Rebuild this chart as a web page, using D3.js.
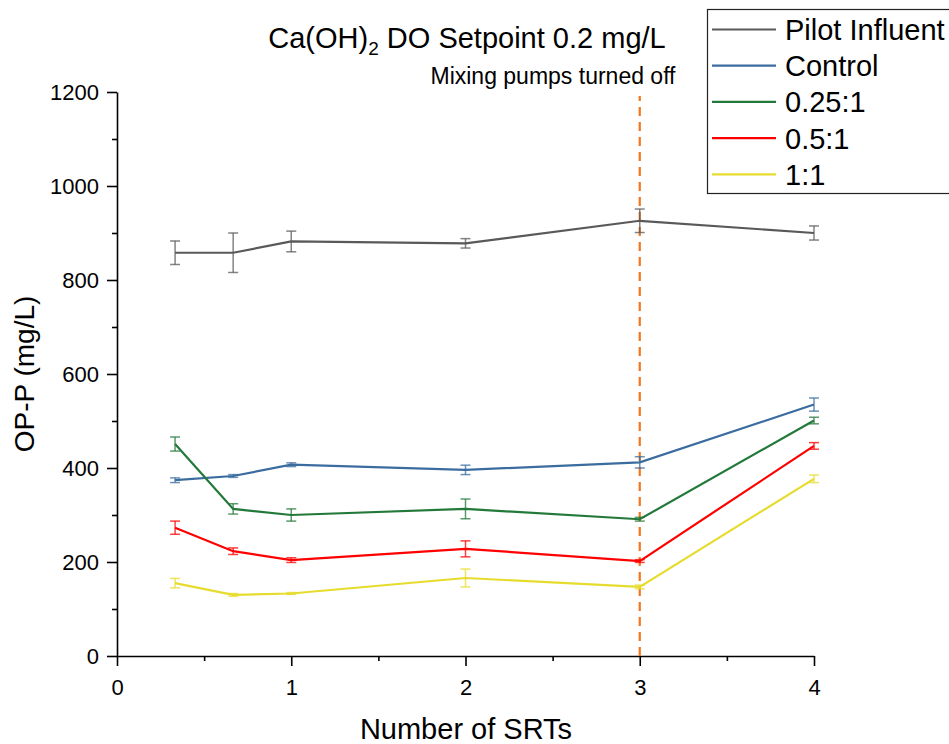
<!DOCTYPE html>
<html>
<head>
<meta charset="utf-8">
<script src="https://cdn.jsdelivr.net/npm/d3@7"></script>
<style>
  html, body { margin: 0; padding: 0; background: #fff; }
  svg { display: block; }
  text { font-family: "Liberation Sans", Arial, sans-serif; fill: #000; }
</style>
</head>
<body>
<svg id="chart" width="949" height="744"></svg>
<script>
// Sampling points, in number of SRTs
const srts = [1/3, 2/3, 1, 2, 3, 4];

// OP-P means (mg/L) and standard deviations per series
const seriesNames = ["Pilot Influent", "Control", "0.25:1", "0.5:1", "1:1"];
const pilotInfluent = [858, 858, 882, 878, 926, 900];
const pilotInfluentErr = [25, 42, 22, 10, 25, 15];
const control = [374, 383, 407, 396, 412, 535];
const controlErr = [5, 3, 4, 10, 12, 14];
const ratio025 = [451, 313, 300, 313, 291, 501];
const ratio025Err = [15, 11, 13, 21, 4, 7];
const ratio05 = [273, 223, 204, 228, 202, 447];
const ratio05Err = [14, 7, 5, 17, 3, 7];
const ratio1 = [155, 130, 133, 166, 147, 377];
const ratio1Err = [10, 3, 2, 19, 4, 8];
const seriesColors = ["#595959", "#3a6c9f", "#23793a", "#ff0000", "#e6dc2e"];

const xTicks = [0, 1, 2, 3, 4];
const xMinorTicks = [0.5, 1.5, 2.5, 3.5];
const yTicks = [0, 200, 400, 600, 800, 1000, 1200];
const yMinorTicks = [100, 300, 500, 700, 900, 1100];
const pumpsOffAt = 3;

const means = [pilotInfluent, control, ratio025, ratio05, ratio1];
const errs = [pilotInfluentErr, controlErr, ratio025Err, ratio05Err, ratio1Err];
const series = seriesNames.map((name, i) => ({
  name, color: seriesColors[i],
  points: srts.map((x, j) => ({ x, y: means[i][j], e: errs[i][j] }))
}));

const svg = d3.select("#chart");
const x = d3.scaleLinear().domain([0, 4]).range([117, 814]);
const y = d3.scaleLinear().domain([0, 1200]).range([656, 92]);

// Axes with major and minor ticks
const axisG = svg.append("g");
const xAxis = axisG.append("g").attr("transform", `translate(0,${y(0)})`)
  .call(d3.axisBottom(x).tickValues(xTicks).tickFormat(d3.format("d"))
    .tickSize(10).tickPadding(13).tickSizeOuter(0));
axisG.append("g").attr("transform", `translate(0,${y(0)})`)
  .call(d3.axisBottom(x).tickValues(xMinorTicks).tickFormat("").tickSize(5).tickSizeOuter(0))
  .select(".domain").remove();
const yAxis = axisG.append("g").attr("transform", `translate(${x(0)},0)`)
  .call(d3.axisLeft(y).tickValues(yTicks).tickFormat(d3.format("d"))
    .tickSize(10).tickPadding(8).tickSizeOuter(0));
axisG.append("g").attr("transform", `translate(${x(0)},0)`)
  .call(d3.axisLeft(y).tickValues(yMinorTicks).tickFormat("").tickSize(5).tickSizeOuter(0))
  .select(".domain").remove();
axisG.selectAll(".domain, .tick line").attr("stroke", "#000").attr("stroke-width", 1.6);
axisG.selectAll(".tick text").attr("font-family", null).attr("fill", "#000");
xAxis.selectAll(".tick text").attr("font-size", 22);
yAxis.selectAll(".tick text").attr("font-size", 22);

// Pumps-off marker
svg.append("line")
  .attr("x1", x(pumpsOffAt)).attr("x2", x(pumpsOffAt))
  .attr("y1", y(0)).attr("y2", 96)
  .attr("stroke", "#f5761a").attr("stroke-width", 2.2)
  .attr("stroke-dasharray", "9,6");
svg.append("text")
  .attr("x", 553).attr("y", 84).attr("text-anchor", "middle")
  .attr("font-size", 23).text("Mixing pumps turned off");

// Series lines with error bars
const line = d3.line().x(d => x(d.x)).y(d => y(d.y));
const cap = 5;
series.forEach(s => {
  const g = svg.append("g");
  const eb = g.append("g").attr("stroke", s.color).attr("stroke-opacity", 0.75)
    .attr("stroke-width", 1.5).attr("fill", "none");
  s.points.forEach(p => {
    eb.append("line").attr("x1", x(p.x)).attr("x2", x(p.x)).attr("y1", y(p.y - p.e)).attr("y2", y(p.y + p.e));
    eb.append("line").attr("x1", x(p.x) - cap).attr("x2", x(p.x) + cap).attr("y1", y(p.y - p.e)).attr("y2", y(p.y - p.e));
    eb.append("line").attr("x1", x(p.x) - cap).attr("x2", x(p.x) + cap).attr("y1", y(p.y + p.e)).attr("y2", y(p.y + p.e));
  });
  g.append("path").datum(s.points).attr("d", line)
    .attr("fill", "none").attr("stroke", s.color).attr("stroke-width", 2.2);
});

// Titles
const title = svg.append("text")
  .attr("x", 467).attr("y", 48).attr("text-anchor", "middle").attr("font-size", 29);
title.append("tspan").text("Ca(OH)");
title.append("tspan").attr("font-size", 19).attr("dy", 7).text("2");
title.append("tspan").attr("dy", -7).text(" DO Setpoint 0.2 mg/L");

svg.append("text")
  .attr("x", 466).attr("y", 739).attr("text-anchor", "middle").attr("font-size", 29)
  .text("Number of SRTs");
svg.append("text")
  .attr("transform", `translate(34,${y(600)}) rotate(-90)`)
  .attr("text-anchor", "middle").attr("font-size", 28)
  .text("OP-P (mg/L)");

// Legend
const leg = svg.append("g");
leg.append("rect").attr("x", 707.5).attr("y", 9.5).attr("width", 250).attr("height", 184)
  .attr("fill", "#fff").attr("stroke", "#222").attr("stroke-width", 1.2);
series.forEach((s, i) => {
  const cy = 29.5 + i * 36.2;
  leg.append("line").attr("x1", 712).attr("x2", 776).attr("y1", cy).attr("y2", cy)
    .attr("stroke", s.color).attr("stroke-width", 2.2);
  leg.append("text").attr("x", 785).attr("y", cy + 10.5)
    .attr("font-size", 29).text(s.name);
});
</script>
</body>
</html>
